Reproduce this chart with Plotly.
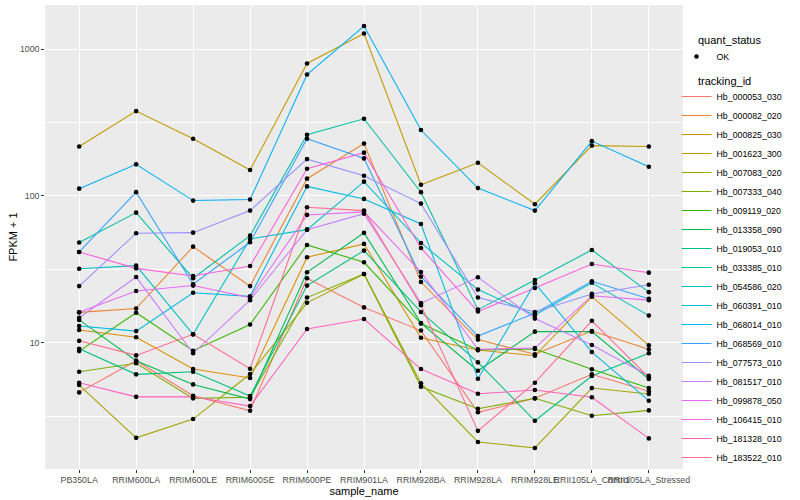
import plotly.graph_objects as go

samples = ["PB350LA", "RRIM600LA", "RRIM600LE", "RRIM600SE", "RRIM600PE", "RRIM901LA",
           "RRIM928BA", "RRIM928LA", "RRIM928LE", "RRII105LA_Control", "RRII105LA_Stressed"]

tracking_ids = ["Hb_000053_030", "Hb_000082_020", "Hb_000825_030", "Hb_001623_300", "Hb_007083_020",
                "Hb_007333_040", "Hb_009119_020", "Hb_013358_090", "Hb_019053_010", "Hb_033385_010",
                "Hb_054586_020", "Hb_060391_010", "Hb_068014_010", "Hb_068569_010", "Hb_077573_010",
                "Hb_081517_010", "Hb_099878_050", "Hb_106415_010", "Hb_181328_010", "Hb_183522_010"]

colors = ["#F8766D", "#EA8331", "#D89000", "#C09B00", "#A3A500", "#7CAE00", "#39B600", "#00BB4E",
          "#00BF7D", "#00C1A3", "#00BFC4", "#00BAE0", "#00B0F6", "#35A2FF", "#9590FF", "#C77CFF",
          "#E76BF3", "#FA62DB", "#FF62BC", "#FF6C91"]

# FPKM + 1 values per sample (order of `samples`)
v_000053_030 = [4.59, 7.54, 4.35, 3.44, 27.5, 17.4, 12.1, 3.36, 4.18, 6.09, 4.67]
v_000082_020 = [16.1, 17.1, 45.1, 24.3, 131, 227, 25.9, 10.5, 8.34, 12.0, 9.02]
v_000825_030 = [12.2, 10.9, 6.62, 5.75, 38.2, 47.1, 10.8, 8.91, 8.15, 20.6, 9.60]
v_001623_300 = [217, 378, 245, 150, 798, 1277, 119, 168, 87.8, 220, 217]
v_007083_020 = [5.15, 2.25, 3.02, 6.12, 18.7, 29.4, 5.29, 2.11, 1.92, 4.91, 4.47]
v_007333_040 = [6.34, 7.24, 4.18, 4.25, 20.3, 29.4, 5.01, 3.55, 4.18, 3.18, 3.46]
v_009119_020 = [8.77, 16.0, 8.82, 13.3, 46.3, 35.3, 13.5, 8.91, 9.06, 6.59, 4.91]
v_013358_090 = [14.3, 7.54, 5.20, 4.13, 30.2, 56.0, 13.6, 6.44, 11.9, 11.9, 5.66]
v_019053_010 = [9.10, 6.09, 6.34, 4.33, 24.5, 42.4, 16.2, 7.35, 2.94, 5.93, 8.47]
v_033385_010 = [48.1, 76.9, 27.5, 53.6, 261, 335, 106, 16.8, 26.7, 42.8, 22.1]
v_054586_020 = [31.9, 33.5, 11.4, 50.9, 58.9, 125, 47.8, 23.0, 15.4, 25.6, 15.3]
v_060391_010 = [13.0, 12.0, 21.9, 20.7, 116, 95.4, 64.4, 5.69, 25.4, 8.64, 4.03]
v_068014_010 = [112, 164, 92.9, 94.4, 671, 1435, 281, 113, 79.4, 236, 158]
v_068569_010 = [41.5, 106, 25.0, 48.3, 245, 180, 28.2, 11.1, 15.9, 26.2, 19.9]
v_077573_010 = [24.3, 55.7, 56.2, 79.4, 178, 137, 88.6, 20.3, 16.2, 21.5, 24.8]
v_081517_010 = [14.8, 28.0, 8.47, 19.5, 58.9, 75.7, 18.6, 27.9, 14.6, 9.64, 5.96]
v_099878_050 = [16.1, 22.5, 24.5, 20.3, 74.2, 77.8, 30.3, 9.02, 9.20, 20.9, 19.5]
v_106415_010 = [41.5, 32.1, 28.5, 33.3, 153, 197, 44.2, 16.3, 23.6, 34.4, 30.0]
v_181328_010 = [5.34, 4.28, 4.28, 3.70, 12.4, 14.5, 6.62, 4.49, 4.76, 4.25, 2.23]
v_183522_010 = [10.3, 8.20, 11.4, 6.65, 83.7, 79.4, 18.0, 2.51, 5.34, 14.1, 5.81]

series = [v_000053_030, v_000082_020, v_000825_030, v_001623_300, v_007083_020, v_007333_040,
          v_009119_020, v_013358_090, v_019053_010, v_033385_010, v_054586_020, v_060391_010,
          v_068014_010, v_068569_010, v_077573_010, v_081517_010, v_099878_050, v_106415_010,
          v_181328_010, v_183522_010]

y_ticks = [10, 100, 1000]
y_ticktext = ["10", "100", "1000"]
y_minor = [3.162, 31.62, 316.2]

FONT = "Liberation Sans, Arial, Helvetica, sans-serif"

fig = go.Figure()
for tid, col, vals in zip(tracking_ids, colors, series):
    fig.add_trace(go.Scatter(x=samples, y=vals, mode="lines", name=tid,
                             line=dict(color=col, width=1.07), legend="legend2"))

fig.add_trace(go.Scatter(x=[s for vals in series for s in samples],
                         y=[v for vals in series for v in vals],
                         mode="markers", name="OK",
                         marker=dict(color="black", size=4.6), legend="legend"))

fig.update_layout(
    width=800, height=500,
    margin=dict(l=45, r=116.5, t=5, b=31, autoexpand=False),
    paper_bgcolor="white", plot_bgcolor="#EBEBEB",
    font=dict(family=FONT, size=11, color="black"),
    showlegend=True,
    xaxis=dict(type="category", categoryorder="array", categoryarray=samples,
               range=[-0.6, 10.6], showgrid=True, gridcolor="white", gridwidth=1.07,
               ticks="outside", ticklen=2.75, tickwidth=1.07, tickcolor="#333333",
               tickfont=dict(size=8.8, color="#4D4D4D"), tickangle=0,
               title=dict(text="sample_name", font=dict(size=11), standoff=2),
               zeroline=False, showline=False),
    yaxis=dict(type="log", range=[0.140, 3.300], tickmode="array", tickvals=y_ticks,
               ticktext=y_ticktext, showgrid=True, gridcolor="white", gridwidth=1.07,
               minor=dict(tickmode="array", tickvals=y_minor, showgrid=True,
                          gridcolor="white", gridwidth=0.53, ticks=""),
               ticks="outside", ticklen=2.75, tickwidth=1.07, tickcolor="#333333",
               tickfont=dict(size=8.8, color="#4D4D4D"),
               title=dict(text="FPKM + 1", font=dict(size=11), standoff=0),
               zeroline=False, showline=False),
    legend=dict(x=0.9898, xanchor="left", y=0.9203, yanchor="top",
                font=dict(size=8.8), bgcolor="rgba(0,0,0,0)", itemwidth=30),
    legend2=dict(x=0.9898, xanchor="left", y=0.834, yanchor="top",
                 font=dict(size=8.8), bgcolor="rgba(0,0,0,0)", itemwidth=30),
    annotations=[
        dict(text="quant_status", xref="paper", yref="paper", x=1.0203, y=0.9253,
             xanchor="left", yanchor="middle", showarrow=False, font=dict(size=11)),
        dict(text="tracking_id", xref="paper", yref="paper", x=1.0203, y=0.8362,
             xanchor="left", yanchor="middle", showarrow=False, font=dict(size=11)),
    ],
)

fig.write_html("out.html", config={"displayModeBar": False},
               post_script="document.body.style.margin='0px';")
